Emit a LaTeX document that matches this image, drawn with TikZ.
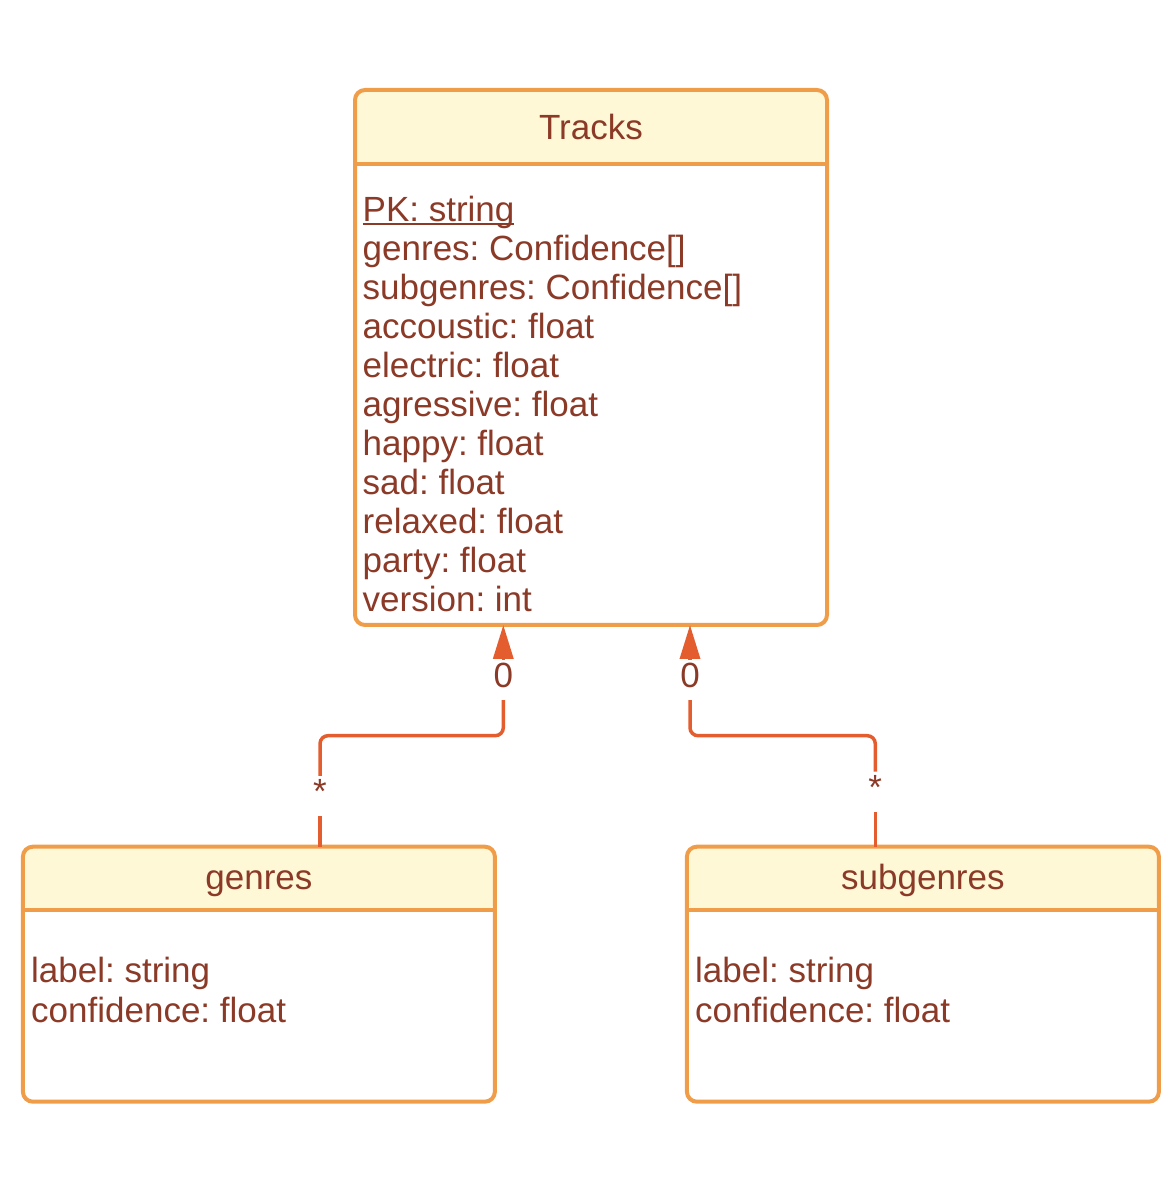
\documentclass[tikz,border=0pt]{standalone}
\usepackage{fontspec}
\setmainfont{Liberation Sans}
\usetikzlibrary{arrows.meta}
\definecolor{boxline}{HTML}{F09D4A}
\definecolor{boxhead}{HTML}{FFF8D7}
\definecolor{linkline}{HTML}{E45D2E}
\definecolor{textcol}{HTML}{8B3A27}
\newcommand\pkline[1]{\setbox0\hbox{#1}\rlap{\rule[-0.35mm]{\wd0}{0.2mm}}#1}
\frenchspacing

\begin{document}
\begin{tikzpicture}[
		every node/.style={text=textcol, inner sep=0pt, font=\fontsize{9.96pt}{11.06pt}\selectfont},
		classbox/.style={draw=boxline, line width=0.4mm, fill=white, rounded corners=1mm, outer sep=0pt,
			path picture={\fill[boxhead] (path picture bounding box.north west) rectangle ([yshift=-#1]path picture bounding box.north east);}},
		divider/.style={draw=boxline, line width=0.4mm},
		title/.style={anchor=base},
		attr/.style={anchor=base west},
		mult/.style={execute at begin node=\strut},
		link/.style={draw=linkline, line width=0.35mm}
	]
			%%%%% START %%%%%
			
			\useasboundingbox (0, 0) rectangle (11.76, 11.97);
			
			% tracks
			\node[classbox=0.74cm, minimum width=4.72cm, minimum height=5.35cm] (tracks) at (5.91, 8.395) {};
			\draw[divider] ([yshift=-0.74cm]tracks.north west) -- ([yshift=-0.74cm]tracks.north east);
			\node[title] (tracks-title) at (5.91, 10.57) {Tracks};
			\foreach \attr [count=\i from 0] in {\pkline{PK: string}, genres: Confidence[], subgenres: Confidence[], accoustic: float, electric: float, agressive: float, happy: float, sad: float, relaxed: float, party: float, version: int}
				\node[attr] (tracks-\i) at (3.62, {9.75-0.39*\i}) {\attr};
			
			% genres
			\node[classbox=0.633cm, minimum width=4.72cm, minimum height=2.55cm] (genres) at (2.589, 2.228) {};
			\draw[divider] ([yshift=-0.633cm]genres.north west) -- ([yshift=-0.633cm]genres.north east);
			\node[title] (genres-title) at (2.589, 3.07) {genres};
			\node[attr] (genres-0) at (0.305, 2.14) {label: string};
			\node[attr] (genres-1) at (0.305, 1.745) {confidence: float};
			
			% subgenres
			\node[classbox=0.633cm, minimum width=4.72cm, minimum height=2.55cm] (subgenres) at (9.229, 2.228) {};
			\draw[divider] ([yshift=-0.633cm]subgenres.north west) -- ([yshift=-0.633cm]subgenres.north east);
			\node[title] (subgenres-title) at (9.229, 3.07) {subgenres};
			\node[attr] (subgenres-0) at (6.945, 2.14) {label: string};
			\node[attr] (subgenres-1) at (6.945, 1.745) {confidence: float};
			
			% multiplicities
			\node[mult] (g-zero) at (5.033, 5.17) {0};
			\node[mult] (g-many) at (3.20, 4.01) {*};
			\node[mult] (s-zero) at (6.90, 5.17) {0};
			\node[mult] (s-many) at (8.753, 4.053) {*};
			\coordinate (g-bend) at (4.1, 4.613);
			\coordinate (s-bend) at (7.8, 4.613);
			
			% links
			\draw[link] (genres.north -| g-many) -- (g-many.south);
			\draw[link, rounded corners=0.8mm] (g-many.north) |- (g-bend) -| (g-zero.south);
			\draw[link, -{Triangle[length=3.4mm, width=2mm]}] (g-zero.north) -- (g-zero |- tracks.south);
			
			\draw[link] (subgenres.north -| s-many) -- (s-many.south);
			\draw[link, rounded corners=0.8mm] (s-many.north) |- (s-bend) -| (s-zero.south);
			\draw[link, -{Triangle[length=3.4mm, width=2mm]}] (s-zero.north) -- (s-zero |- tracks.south);
			
			%%%%% END %%%%%
\end{tikzpicture}
\end{document}
